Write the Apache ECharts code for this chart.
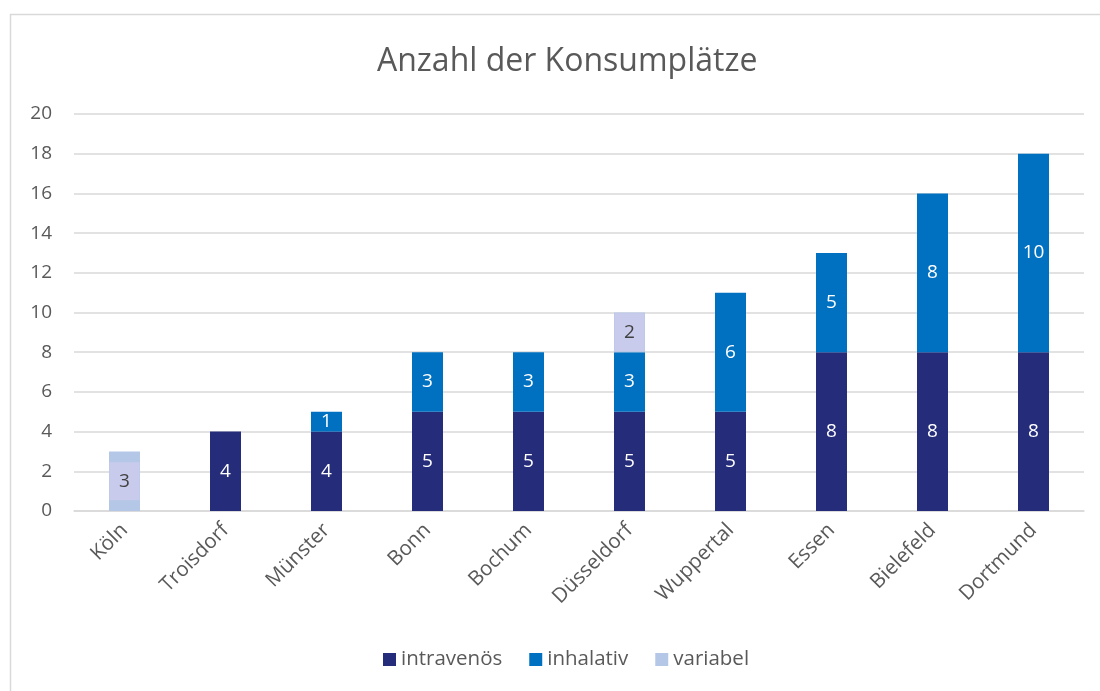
<!DOCTYPE html>
<html><head><meta charset="utf-8">
<script src="https://cdn.jsdelivr.net/npm/echarts@6/dist/echarts.min.js"></script>
<style>html,body{margin:0;padding:0;background:#fff}#c{width:1100px;height:691px}</style>
</head><body><div id="c"></div>
<script>
const categories = ['Köln','Troisdorf','Münster','Bonn','Bochum','Düsseldorf','Wuppertal','Essen','Bielefeld','Dortmund'];
const intravenos = [null,4,4,5,5,5,5,8,8,8];
const inhalativ = [null,null,1,3,3,3,6,5,8,10];
const variabel = [3,null,null,null,null,2,null,null,null,null];
const yTicks = [0,2,4,6,8,10,12,14,16,18,20];

const font = '"Open Sans", "Noto Sans", sans-serif';
const chart = echarts.init(document.getElementById('c'), null, {renderer:'canvas'});
function lbl(color, bg){
  const o = {show:true, position:'inside', color:color, fontSize:19, fontFamily:font};
  if(bg){ Object.assign(o,{backgroundColor:bg, width:30, height:38, lineHeight:38, align:'center', verticalAlign:'middle', color:'#404040'}); }
  return o;
}
chart.setOption({
  animation:false,
  title:{text:'Anzahl der Konsumplätze', left:372, top:41, textStyle:{fontFamily:font, fontSize:32, fontWeight:'normal', color:'#595959'}},
  graphic:[{type:'polyline', shape:{points:[[10.5,691],[10.5,14.5],[1100,14.5]]}, style:{stroke:'#d9d9d9', lineWidth:1.5, fill:null}, silent:true}],
  legend:{bottom:16, left:378, itemWidth:13, itemHeight:13, itemGap:27, icon:'rect',
    textStyle:{fontFamily:font, fontSize:20.5, color:'#595959'}, data:['intravenös','inhalativ','variabel']},
  grid:{left:74, right:16, top:114, bottom:180, containLabel:false},
  xAxis:{type:'category', data:categories, axisTick:{show:false},
    axisLine:{lineStyle:{color:'#d9d9d9', width:1.5}},
    axisLabel:{rotate:45, fontFamily:font, fontSize:20.5, color:'#595959', margin:16, interval:0}},
  yAxis:{type:'value', min:yTicks[0], max:yTicks[yTicks.length-1], interval:2,
    axisLine:{show:false}, axisTick:{show:false},
    splitLine:{lineStyle:{color:'#d9d9d9', width:1.5}},
    axisLabel:{fontFamily:font, fontSize:19, color:'#595959', margin:22}},
  series:[
    {name:'intravenös', type:'bar', stack:'a', data:intravenos, barWidth:31, itemStyle:{color:'#252d7b'}, label:lbl('#fff')},
    {name:'inhalativ', type:'bar', stack:'a', data:inhalativ, barWidth:31, itemStyle:{color:'#0070c0'}, label:lbl('#fff')},
    {name:'variabel', type:'bar', stack:'a', data:variabel, barWidth:31, itemStyle:{color:'#b4c7e7'}, label:lbl('#404040','#c9cbec')}
  ]
});
</script></body></html>
